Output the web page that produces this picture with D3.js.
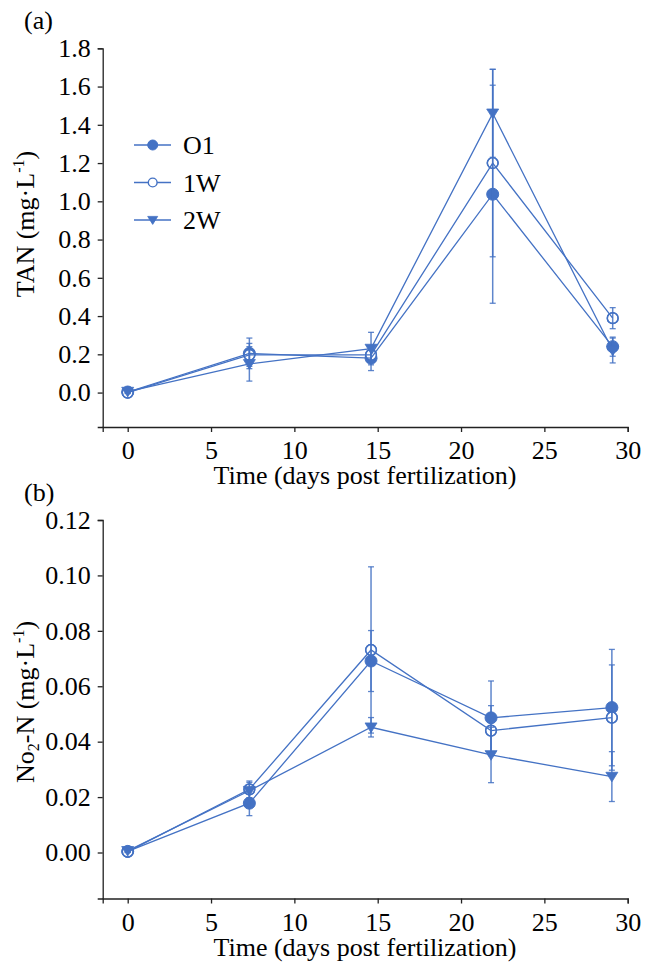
<!DOCTYPE html>
<html><head><meta charset="utf-8">
<script src="https://cdn.jsdelivr.net/npm/d3@7"></script>
<style>
body{margin:0;background:#fff;}
svg, svg text{font-family:"Liberation Serif","Times New Roman",Times,serif !important;}
</style></head>
<body><svg id="c" width="646" height="964"></svg>
<script>
// ---- data ----
const seriesNames = ["O1", "1W", "2W"];
const daysA = [0, 7.3, 14.6, 21.9, 29.1];
const daysB = [0, 7.3, 14.6, 21.8, 29.05];
const tanO1 = [0.003, 0.205, 0.18, 1.037, 0.24];
const tanO1Err = [0.005, 0.08, 0.065, 0.57, 0.05];
const tan1W = [0.0, 0.197, 0.197, 1.20, 0.389];
const tan1WErr = [0.005, 0.06, 0.03, 0.49, 0.055];
const tan2W = [0.005, 0.15, 0.23, 1.46, 0.22];
const tan2WErr = [0.005, 0.09, 0.085, 0.23, 0.065];
const no2O1 = [0.0004, 0.0178, 0.0691, 0.0486, 0.0523];
const no2O1Err = [0.0003, 0.0045, 0.011, 0.0133, 0.021];
const no21W = [0.0003, 0.0228, 0.0731, 0.044, 0.0487];
const no21WErr = [0.0003, 0.003, 0.030, 0.009, 0.019];
const no22W = [0.0006, 0.0223, 0.0452, 0.0352, 0.0274];
const no22WErr = [0.0003, 0.003, 0.0035, 0.01, 0.009];
const xTicks = [0, 5, 10, 15, 20, 25, 30];
const yTicksA = [0, 0.2, 0.4, 0.6, 0.8, 1.0, 1.2, 1.4, 1.6, 1.8];
const yTicksB = [0, 0.02, 0.04, 0.06, 0.08, 0.10, 0.12];

const blue = "#4472C4";
const svg = d3.select("#c");
const FS = 26;
const FF = "'Liberation Serif','Times New Roman',Times,serif";

function tri(s){ const w=s, h=s*0.8; return `M${-w/2},${-h*0.45}L${w/2},${-h*0.45}L0,${h*0.55}Z`; }

function drawMarker(g, kind, x, y, r){
  if(kind===0){ g.append("circle").attr("cx",x).attr("cy",y).attr("r",r).attr("fill",blue).attr("stroke",blue).attr("stroke-width",1); }
  else if(kind===1){ g.append("circle").attr("cx",x).attr("cy",y).attr("r",r-0.6).attr("fill","#fff").attr("stroke",blue).attr("stroke-width",1.4); }
  else { g.append("path").attr("d",tri(r*2)).attr("transform",`translate(${x},${y})`).attr("fill",blue).attr("stroke",blue).attr("stroke-width",0.8); }
}

function txt(sel){ return sel.attr("font-family",FF).attr("font-size",FS).attr("fill","#000"); }

function panel(opts){
  const g = svg.append("g");
  const x = d3.scaleLinear().domain([-1.5,30]).range([102.7,627.7]);
  const y = d3.scaleLinear().domain(opts.yDomain).range(opts.yRange);
  const ax = g.append("g").attr("transform",`translate(0,${opts.yRange[0]})`)
    .call(d3.axisBottom(x).tickValues(xTicks).tickSize(5).tickSizeOuter(5).tickPadding(9).tickFormat(d3.format("d")));
  const ay = g.append("g").attr("transform",`translate(102.7,0)`)
    .call(d3.axisLeft(y).tickValues(opts.yTicks).tickSize(5).tickSizeOuter(5).tickPadding(7).tickFormat(d3.format(opts.fmt)));
  [ax,ay].forEach(a=>{
    a.attr("font-family",FF).attr("font-size",FS);
    a.selectAll("path,line").attr("stroke","#222").attr("stroke-width",1.3);
    txt(a.selectAll("text"));
  });
  txt(g.append("text").attr("x",365).attr("y",opts.yRange[0]+57).attr("text-anchor","middle"))
    .text("Time (days post fertilization)");
  txt(g.append("text").attr("x",24).attr("y",opts.letterY)).text(opts.letter);
  const yl = txt(g.append("text").attr("transform",`translate(34,${opts.yLabelCy}) rotate(-90)`)
    .attr("text-anchor","middle"));
  opts.yLabel(yl);

  const vals = opts.values, errs = opts.errs, days = opts.days;
  const line = d3.line().x(d=>x(d[0])).y(d=>y(d[1]));
  [0,1].forEach(i=>days.forEach((d,j)=>drawMarker(g,i,x(d),y(vals[i][j]),6)));
  vals.forEach((v,i)=>{
    g.append("path").attr("d",line(days.map((d,j)=>[d,v[j]]))).attr("fill","none")
      .attr("stroke",blue).attr("stroke-width",1.3);
  });
  vals.forEach((v,i)=>{
    days.forEach((d,j)=>{
      const cx=x(d), y1=y(v[j]+errs[i][j]), y2=y(v[j]-errs[i][j]);
      g.append("line").attr("x1",cx).attr("x2",cx).attr("y1",y1).attr("y2",y2).attr("stroke",blue).attr("stroke-width",1.5).attr("opacity",0.85);
      [y1,y2].forEach(yy=>g.append("line").attr("x1",cx-3).attr("x2",cx+3).attr("y1",yy).attr("y2",yy).attr("stroke",blue).attr("stroke-width",1.3).attr("opacity",0.85));
    });
  });
  days.forEach((d,j)=>g.append("circle").attr("cx",x(d)).attr("cy",y(vals[1][j])).attr("r",5.4).attr("fill","none").attr("stroke",blue).attr("stroke-width",1.4));
  days.forEach((d,j)=>drawMarker(g,2,x(d),y(vals[2][j]),6));
  if(opts.legend){
    seriesNames.forEach((n,i)=>{
      const yy = 145 + i*37.5;
      g.append("line").attr("x1",134).attr("x2",171).attr("y1",yy).attr("y2",yy).attr("stroke",blue).attr("stroke-width",1.3);
      drawMarker(g,i,152.7,yy,5);
      txt(g.append("text").attr("x",183).attr("y",yy).attr("dy","0.35em")).text(n);
    });
  }
}

panel({
  yDomain:[-0.18,1.8], yRange:[427,48.3], yTicks:yTicksA, fmt:".1f",
  letter:"(a)", letterY:29, yLabelCy:224,
  yLabel: t=>{ t.append("tspan").text("TAN (mg·L"); t.append("tspan").attr("dy",-10).attr("font-size",16).text("-1"); t.append("tspan").attr("dy",10).text(")"); },
  values:[tanO1,tan1W,tan2W], errs:[tanO1Err,tan1WErr,tan2WErr], days:daysA, legend:true
});
panel({
  yDomain:[-0.0166,0.12], yRange:[898.5,520], yTicks:yTicksB, fmt:".2f",
  letter:"(b)", letterY:501, yLabelCy:702,
  yLabel: t=>{ t.append("tspan").text("No"); t.append("tspan").attr("dy",5).attr("font-size",16).text("2"); t.append("tspan").attr("dy",-5).text("-N (mg·L"); t.append("tspan").attr("dy",-10).attr("font-size",16).text("-1"); t.append("tspan").attr("dy",10).text(")"); },
  values:[no2O1,no21W,no22W], errs:[no2O1Err,no21WErr,no22WErr], days:daysB, legend:false
});
</script></body></html>
